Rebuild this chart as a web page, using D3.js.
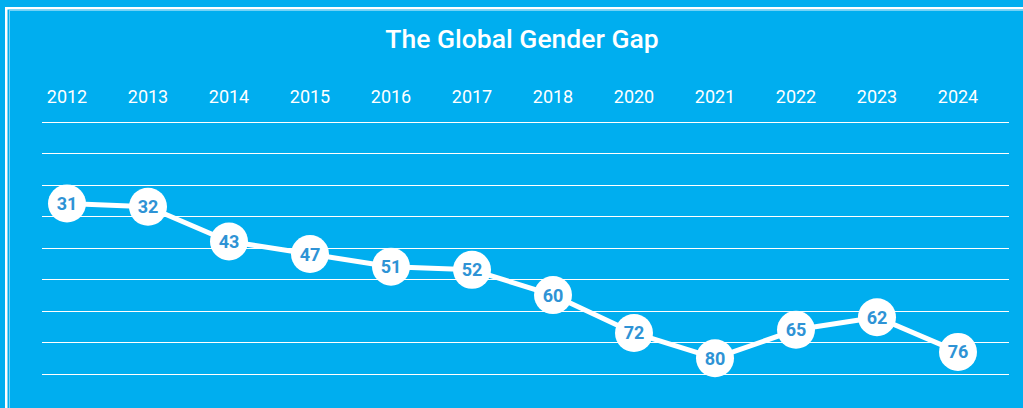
<!DOCTYPE html>
<html>
<head>
<meta charset="utf-8">
<script src="https://cdn.jsdelivr.net/npm/d3@7"></script>
<style>
  html, body { margin: 0; padding: 0; background: #00aeef; overflow: hidden; }
  svg { display: block; font-family: Roboto, "Noto Sans", sans-serif; }
</style>
</head>
<body>
<svg id="chart" width="1023" height="408"></svg>
<script>
// data
const years = ["2012", "2013", "2014", "2015", "2016", "2017", "2018", "2020", "2021", "2022", "2023", "2024"];
const ranks = [31, 32, 43, 47, 51, 52, 60, 72, 80, 65, 62, 76];
// height each point is drawn at in the source (the last three sit lower than their label)
const drawnAt = [31, 32, 43, 47, 51, 52, 60, 72, 80, 71, 67, 78];
const gridValues = [5, 15, 25, 35, 45, 55, 65, 75, 85];

const width = 1023, height = 408;
const svg = d3.select('#chart');

// frame
svg.append('rect')
  .attr('x', 6.25).attr('y', 8.25)
  .attr('width', width + 20).attr('height', height + 20)
  .attr('fill', 'none')
  .attr('stroke', '#fff')
  .attr('stroke-width', 2.5);
svg.append('rect')
  .attr('x', 9.5).attr('y', 10.5)
  .attr('width', width + 20).attr('height', height + 20)
  .attr('fill', 'none')
  .attr('stroke', 'rgba(255,255,255,0.45)')
  .attr('stroke-width', 1);

svg.append('text')
  .attr('x', 522).attr('y', 48)
  .attr('text-anchor', 'middle')
  .attr('fill', '#fff')
  .attr('font-size', 26.5)
  .attr('font-weight', 500)
  .text('The Global Gender Gap');

let x = d3.scalePoint()
  .domain(years)
  .range([67, 958]);

let y = d3.scaleLinear()
  .domain([5, 85])
  .range([121.5, 374]);

// gridlines
svg.append('g')
  .selectAll('line')
  .data(gridValues)
  .join('line')
  .attr('x1', 42).attr('x2', 1009)
  .attr('y1', d => Math.round(y(d)) + 0.5)
  .attr('y2', d => Math.round(y(d)) + 0.5)
  .attr('stroke', '#fff')
  .attr('stroke-width', 1);

// year labels on top
svg.append('g')
  .selectAll('text')
  .data(years)
  .join('text')
  .attr('x', d => x(d))
  .attr('y', 103)
  .attr('text-anchor', 'middle')
  .attr('fill', '#fff')
  .attr('font-size', 18)
  .text(d => d);

let points = years.map((yr, i) => ({ year: yr, rank: ranks[i], pos: drawnAt[i] }));

let line = d3.line()
  .x(d => x(d.year))
  .y(d => y(d.pos));

svg.append('path')
  .datum(points)
  .attr('d', line)
  .attr('fill', 'none')
  .attr('stroke', '#fff')
  .attr('stroke-width', 5)
  .attr('stroke-linejoin', 'round');

let dots = svg.append('g')
  .selectAll('g')
  .data(points)
  .join('g')
  .attr('transform', d => `translate(${x(d.year)},${y(d.pos)})`);

dots.append('circle')
  .attr('r', 19)
  .attr('fill', '#fff');

dots.append('text')
  .attr('text-anchor', 'middle')
  .attr('dy', '0.36em')
  .attr('fill', '#2e93d5')
  .attr('font-size', 18)
  .attr('font-weight', 700)
  .text(d => d.rank);
</script>
</body>
</html>
